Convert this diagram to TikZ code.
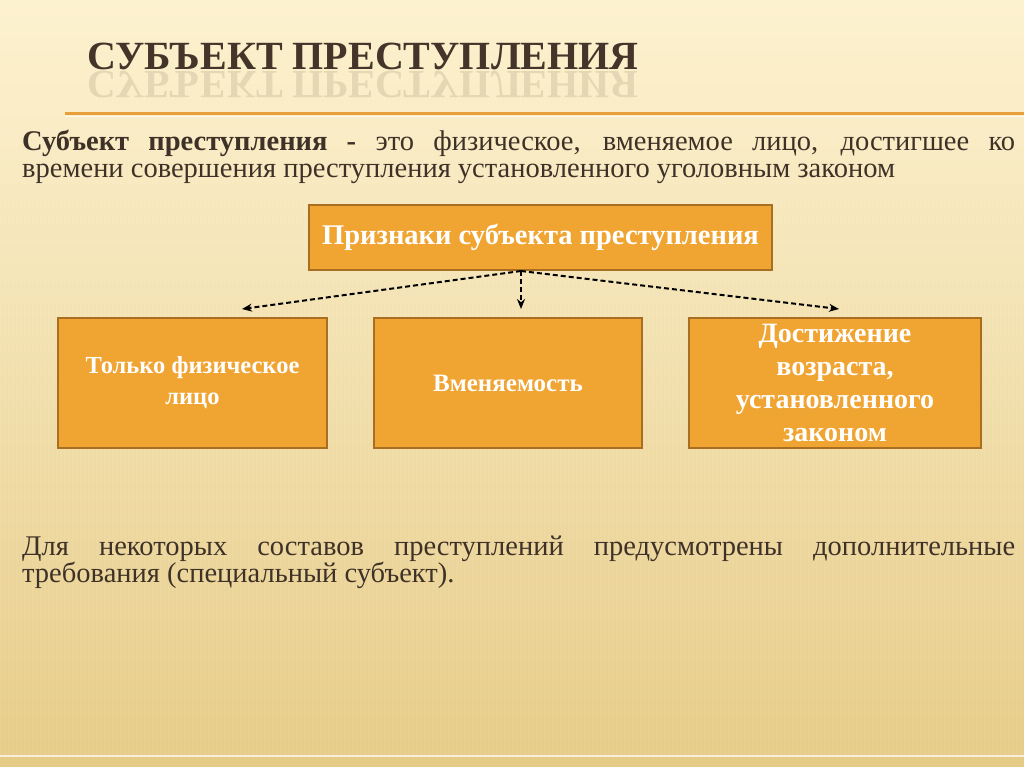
\documentclass[tikz,border=0pt]{standalone}
\usepackage{fontspec}
\setmainfont{Liberation Serif}
\usetikzlibrary{arrows.meta}

\definecolor{bgtop}{HTML}{FDF2D0}
\definecolor{bgbot}{HTML}{E6CB86}
\definecolor{boxfill}{HTML}{F0A431}
\definecolor{boxline}{HTML}{A86E22}
\definecolor{rulecol}{HTML}{E8A03A}
\definecolor{ink}{HTML}{3E3228}
\definecolor{titleink}{HTML}{433529}

\tikzset{
  sign/.style={draw=boxline, line width=2pt, fill=boxfill, text=white, align=center, inner sep=0pt},
  link/.style={dash pattern=on 5pt off 3pt, line width=2pt, -{Stealth[length=10pt,width=8pt]}},
  para/.style={anchor=north west, text width=993pt, align=justify, inner sep=0pt, text=ink, font=\fontsize{28.5}{27}\selectfont},
  heading/.style={anchor=base west, inner sep=0pt, text=titleink, font=\bfseries\fontsize{40}{40}\selectfont},
}

\begin{document}
\begin{tikzpicture}[x=1pt,y=-1pt]
\shade[top color=bgtop, bottom color=bgbot] (0,0) rectangle (1024,767);
\useasboundingbox (0,0) rectangle (1024,767);
% faint vertical stripes
\foreach \i in {0,...,255}
  \fill[white, opacity=0.07] (\i*4,95) rectangle +(2,660);

% title with a faint reflection
\node[heading] (title) at (87,70) {СУБЪЕКТ ПРЕСТУПЛЕНИЯ};
\begin{scope}[shift={(87,72)}]
\node[heading, yscale=-1, transform shape, opacity=0.12] (mirror) at (0,0) {СУБЪЕКТ ПРЕСТУПЛЕНИЯ};
\end{scope}
\draw[rulecol, line width=3pt] (65,114) -- (1024,114);
\draw[white, opacity=0.7, line width=1pt] (65,117) -- (1024,117);

\node[para] (defn) at (22,130) {\textbf{Субъект преступления -} это физическое, вменяемое лицо, достигшее ко\linebreak времени совершения преступления установленного уголовным законом};

\node[sign, minimum width=463pt, minimum height=65pt, font=\bfseries\fontsize{28.5}{28}\selectfont] (signs) at (540.5,237.5) {Признаки субъекта преступления};

\node[sign, minimum width=269pt, minimum height=130pt, font=\bfseries\fontsize{24.5}{31}\selectfont] (person) at (192.5,383) {Только физическое\\лицо};
\node[sign, minimum width=268pt, minimum height=130pt, font=\bfseries\fontsize{25}{31}\selectfont] (sanity) at (508,383) {Вменяемость};
\node[sign, minimum width=292pt, minimum height=130pt, font=\bfseries\fontsize{28}{33}\selectfont] (age) at (835,383) {Достижение\\возраста,\\установленного\\законом};

\coordinate (tipL) at (242,309);
\coordinate (tipM) at (521,309);
\coordinate (tipR) at (839,309);
\draw[link] (signs.south -| tipM) -- (tipL);
\draw[link] (signs.south -| tipM) -- (tipM);
\draw[link] (signs.south -| tipM) -- (tipR);

\node[para] (extra) at (22,536) {Для некоторых составов преступлений предусмотрены дополнительные требования (специальный субъект).};

\draw[white, opacity=0.7, line width=2pt] (0,756) -- (1024,756);
\end{tikzpicture}
\end{document}
